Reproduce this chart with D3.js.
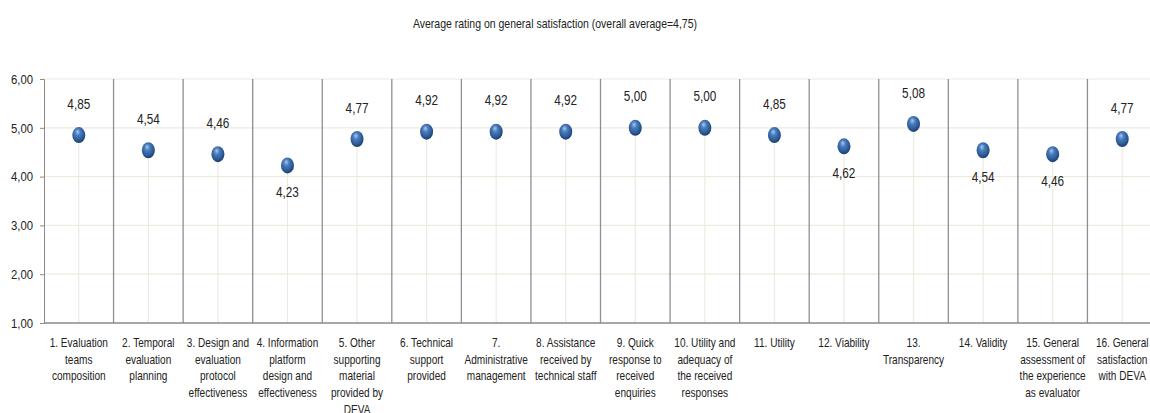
<!DOCTYPE html>
<html lang="en">
<head>
  <meta charset="utf-8">
  <title>Average rating on general satisfaction</title>
  <script src="https://d3js.org/d3.v7.min.js"></script>
  <style>
    body {
      margin: 0;
      background: #fff;
    }
    svg {
      display: block;
      font-family: "Liberation Sans", Arial, sans-serif;
    }
  </style>
</head>
<body>
  <svg width="1150" height="413"></svg>

  <script>
  // chart data
  const categories = [
    ["1. Evaluation", "teams", "composition"],
    ["2. Temporal", "evaluation", "planning"],
    ["3. Design and", "evaluation", "protocol", "effectiveness"],
    ["4. Information", "platform", "design and", "effectiveness"],
    ["5. Other", "supporting", "material", "provided by", "DEVA"],
    ["6. Technical", "support", "provided"],
    ["7.", "Administrative", "management"],
    ["8. Assistance", "received by", "technical staff"],
    ["9. Quick", "response to", "received", "enquiries"],
    ["10. Utility and", "adequacy of", "the received", "responses"],
    ["11. Utility"],
    ["12. Viability"],
    ["13.", "Transparency"],
    ["14. Validity"],
    ["15. General", "assessment of", "the experience", "as evaluator"],
    ["16. General", "satisfaction", "with DEVA"]
  ];
  const ratings = [4.85, 4.54, 4.46, 4.23, 4.77, 4.92, 4.92, 4.92, 5.00, 5.00, 4.85, 4.62, 5.08, 4.54, 4.46, 4.77];
  const labelSide = ["above", "above", "above", "below", "above", "above", "above", "above",
                     "above", "above", "above", "below", "above", "below", "below", "above"];
  const yTicks = [1, 2, 3, 4, 5, 6];
  const title = "Average rating on general satisfaction (overall average=4,75)";

  const svg = d3.select("svg");
  const fmt = v => d3.format(".2f")(v).replace(".", ",");

  // the source uses a narrow font, so text is squeezed horizontally
  const squeeze = 0.84;

  // plot area (the right edge runs slightly past the window, as in the source)
  const plotLeft = 44, plotRight = 1157, plotTop = 79, plotBottom = 323;

  const x = d3.scaleBand()
    .domain(d3.range(categories.length))
    .range([plotLeft, plotRight])
    .paddingInner(0)
    .paddingOuter(0);

  const y = d3.scaleLinear()
    .domain([1, 6])
    .range([plotBottom, plotTop]);

  const cx = i => x(i) + x.bandwidth() / 2;

  // sphere gradient
  const defs = svg.append("defs");
  const grad = defs.append("radialGradient")
    .attr("id", "ball")
    .attr("cx", "45%").attr("cy", "40%").attr("r", "60%")
    .attr("fx", "40%").attr("fy", "28%");
  grad.append("stop").attr("offset", "0%").attr("stop-color", "#a9c8ee");
  grad.append("stop").attr("offset", "35%").attr("stop-color", "#4a7dbd");
  grad.append("stop").attr("offset", "80%").attr("stop-color", "#285691");
  grad.append("stop").attr("offset", "100%").attr("stop-color", "#193b6a");

  // title
  svg.append("text")
    .attr("transform", `translate(555,28) scale(${squeeze},1)`)
    .attr("text-anchor", "middle")
    .attr("font-size", 12.5)
    .attr("fill", "#222")
    .text(title);

  // horizontal gridlines
  svg.append("g")
    .selectAll("line")
    .data(yTicks.slice(1))
    .enter().append("line")
    .attr("x1", plotLeft).attr("x2", 1150)
    .attr("y1", d => y(d)).attr("y2", d => y(d))
    .attr("stroke", "#eeeadf")
    .attr("stroke-width", 1.2);

  // drop lines from each point down to the axis
  svg.append("g")
    .selectAll("line")
    .data(ratings)
    .enter().append("line")
    .attr("x1", (d, i) => cx(i))
    .attr("x2", (d, i) => cx(i))
    .attr("y1", d => y(d))
    .attr("y2", plotBottom)
    .attr("stroke", "#eeeadf")
    .attr("stroke-width", 1.2);

  // category dividers
  svg.append("g")
    .selectAll("line")
    .data(d3.range(1, categories.length))
    .enter().append("line")
    .attr("x1", d => x(d)).attr("x2", d => x(d))
    .attr("y1", plotTop).attr("y2", plotBottom)
    .attr("stroke", "#8f8f8f")
    .attr("stroke-width", 1.3);

  // y axis
  const yAxis = svg.append("g")
    .attr("transform", `translate(${plotLeft},0)`)
    .call(d3.axisLeft(y).tickValues(yTicks).tickSize(4).tickPadding(6).tickFormat(fmt));
  yAxis.attr("font-family", null);
  yAxis.select(".domain").attr("stroke", "#8a8a8a");
  yAxis.selectAll(".tick line").attr("stroke", "#8a8a8a");
  yAxis.selectAll("text")
    .attr("x", -11 / squeeze)
    .attr("transform", `scale(${squeeze},1)`)
    .attr("font-size", 13.5)
    .attr("fill", "#222");

  // x axis line
  svg.append("line")
    .attr("x1", plotLeft).attr("x2", 1150)
    .attr("y1", plotBottom).attr("y2", plotBottom)
    .attr("stroke", "#8a8a8a")
    .attr("stroke-width", 1.3);

  // category labels
  const catLabels = svg.append("g")
    .selectAll("text")
    .data(categories)
    .enter().append("text")
    .attr("transform", (d, i) => `translate(${cx(i)},0) scale(${squeeze},1)`)
    .attr("text-anchor", "middle")
    .attr("font-size", 12)
    .attr("fill", "#222");
  catLabels.selectAll("tspan")
    .data(d => d)
    .enter().append("tspan")
    .attr("x", 0)
    .attr("y", (d, j) => 347 + j * 16.7)
    .text(d => d);

  // points
  svg.append("g")
    .selectAll("ellipse")
    .data(ratings)
    .enter().append("ellipse")
    .attr("cx", (d, i) => cx(i))
    .attr("cy", d => y(d))
    .attr("rx", 6.5)
    .attr("ry", 8)
    .attr("fill", "url(#ball)");

  // value labels
  svg.append("g")
    .selectAll("text")
    .data(ratings)
    .enter().append("text")
    .attr("transform", (d, i) =>
      `translate(${cx(i)},${y(d) + (labelSide[i] === "above" ? -30 : 28)}) scale(${squeeze},1)`)
    .attr("dominant-baseline", "middle")
    .attr("text-anchor", "middle")
    .attr("font-size", 14)
    .attr("fill", "#222")
    .text(fmt);
  </script>
</body>
</html>
